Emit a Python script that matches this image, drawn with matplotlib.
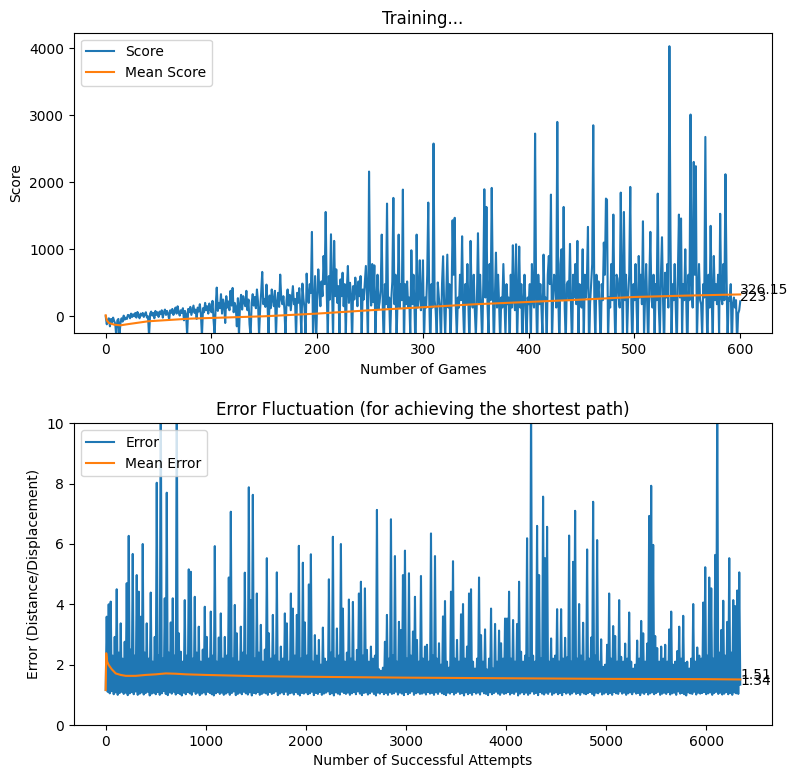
import numpy as np
import matplotlib
matplotlib.use("Agg")
import matplotlib.pyplot as plt
from matplotlib.ticker import MultipleLocator

# score per game
scores = [
    0, -120, -60, -30, -150, -40, -90, -20, -70, -110,
    -300, -60, -40, -280, -100, -30, -80, 10, -50, -20,
    -40, 20, 15, -30, 40, -10, 30, 0, 50, -20,
    64, 20, -30, 40, 10, 50, -10, 30, 60, -20,
    0, -300, 40, 70, 10, 50, -30, 80, 20, 60,
    -10, 70, 30, 90, -20, 60, 100, 20, 80, 40,
    -50, 90, 50, 110, 20, 70, 130, 40, 149, 60,
    10, 90, 50, 120, -60, 80, 30, -280, 110, 60,
    140, 20, 90, 160, 50, 100, -40, 130, 70, 180,
    30, -300, 120, 60, 200, 90, 150, 40, 190, 100,
    60, 230, -60, -280, 150, 428, 80, 200, 120, 330,
    40, 250, 180, -100, 300, 130, 220, 90, 380, 160,
    423, 60, 200, 140, -150, 270, -300, 180, 320, 100,
    300, 210, 150, 380, 90, 250, -120, -300, 200, 330,
    160, 288, 120, 400, 220, -290, 100, 350, 662, 180,
    260, 140, 473, 200, -300, 310, 120, 400, 240, 150,
    380, -310, 210, 350, 140, 622, 260, 180, 300, 100,
    -300, 240, 400, 160, 320, 90, 280, 450, 180, 260,
    -320, 350, 200, 420, 150, -280, 488, 260, 120, -350,
    637, 300, 200, 480, 350, 1259, -300, 150, 600, -400,
    250, 700, 400, 150, 520, 300, 900, 480, 1557, 350,
    -300, 600, 250, 1224, 450, -350, 1125, 300, 700, 200,
    450, -250, 550, 300, 650, 150, 480, -300, 400, 751,
    200, 500, 320, -400, 450, 250, 577, 380, 150, 520,
    300, 600, -350, 400, 250, 500, 751, 300, -450, 2160,
    480, 160, 780, 210, 760, -300, 240, 620, 110, 210,
    400, 1219, 130, -500, 480, 180, 1682, 130, 280, -300,
    240, 520, 1767, 180, 620, -400, 280, 1219, 130, 480,
    240, 1891, -500, 480, 180, 520, 130, 280, -300, 985,
    180, 620, 110, -600, 1219, 130, 280, 836, 90, 210,
    836, -400, 280, 130, 620, 1697, 180, -500, 480, 130,
    2578, 240, 90, -300, 505, 280, 130, -400, 480, 896,
    180, -300, 280, 920, 130, 480, -500, 240, 1433, 620,
    1470, 180, -300, 280, 130, 620, 240, 1194, 110, -400,
    480, 180, 780, 130, -500, 1125, 280, 130, 620, 90,
    -300, 240, 1240, 180, 620, 130, -400, 480, 1896, 280,
    1632, 180, -300, 780, 240, 1916, 480, -500, 280, 950,
    130, 620, 180, -400, 280, 130, 780, 240, -300, 480,
    180, 280, -500, 620, 130, 1060, 240, 90, 1075, -400,
    280, 1040, 130, 480, -600, 240, 620, 110, -300, 280,
    180, 480, -400, 780, 240, 130, 2727, 280, -500, 620,
    180, 480, 130, -300, 920, 240, 280, -400, 620, 900,
    480, 1816, -400, 240, 620, 520, 130, 2901, 280, -500,
    780, 1000, 240, 1632, 130, -400, 480, 520, 240, 1080,
    130, -500, 620, 280, 780, 180, 1125, -300, 480, 240,
    130, 1000, -400, 620, 280, 560, 1334, -600, 180, 480,
    780, 2851, 240, -400, 620, 280, 520, 130, -500, 480,
    240, 1100, 620, 1757, 1740, -400, 280, 130, 780, 240,
    1518, 180, -500, 620, 560, 280, 130, 1846, 480, -400,
    1557, 240, 620, -300, 280, 620, 1931, 180, -500, 480,
    240, 780, 130, -400, 900, 280, 620, 180, 1418, -300,
    280, 780, 180, -500, 520, 1260, 280, 130, 620, -400,
    480, 240, 1831, 130, -300, 620, 1180, 240, -500, 650,
    280, 780, 130, 4031, 1300, -400, 480, 240, 780, 130,
    -500, 620, 1518, 280, 1460, -300, 480, 240, 1000, 180,
    -600, 620, 240, 3011, 480, 130, 2304, 620, 2240, -400,
    280, 780, 240, 180, -300, 480, 280, 2677, 240, -500,
    620, 130, 1350, 280, -400, 900, 240, 480, 180, 620,
    -300, 1530, 280, 180, 780, 240, 2120, 650, -400, 280,
    230, 480, -500, 180, 280, 130, 240, -400, 40, 90,
    223,
]

# running mean score, read at a few games
mean_score_x = [0, 1, 3, 8, 14, 20, 40, 80, 120, 150, 200, 250, 300, 350, 400, 450, 500, 550, 600]
mean_score = [15, -60, -100, -125, -135, -120, -75, -35, -15, 0, 40, 90, 135, 180, 214, 249, 288, 309, 326.15]

# error, sampled every 10 attempts: lows (x = 0, 20, ...) and highs (x = 10, 30, ...)
err_lows = [
    1.16, 1.1, 1.05, 1.12, 1.02, 1.08, 1.0, 1.06, 1.1, 1.03, 1.07, 0.99, 1.05, 1.09, 1.02, 1.11, 1.0, 1.04, 1.08, 1.01,
    1.06, 1.1, 0.98, 1.04, 1.07, 1.02, 1.09, 1.0, 1.05, 1.12, 1.03, 0.99, 1.08, 1.04, 1.1, 1.01, 1.06, 1.03, 0.98, 1.07,
    1.02, 1.09, 1.05, 1.0, 1.11, 1.03, 1.07, 0.99, 1.04, 1.08, 1.01, 1.1, 1.06, 1.02, 0.98, 1.05, 1.09, 1.03, 1.07, 1.0,
    1.04, 1.08, 1.0, 1.06, 1.11, 0.99, 1.03, 1.07, 1.02, 1.1, 1.05, 1.01, 1.08, 0.98, 1.06, 1.04, 1.09, 1.0, 1.03, 1.07,
    1.05, 1.0, 1.09, 1.03, 1.06, 1.11, 0.99, 1.04, 1.08, 1.02, 1.1, 1.0, 1.05, 1.07, 1.01, 1.09, 1.03, 0.98, 1.06, 1.04,
    1.08, 1.02, 1.05, 1.1, 0.99, 1.06, 1.03, 1.09, 1.0, 1.04, 1.07, 1.11, 1.02, 1.05, 0.98, 1.08, 1.04, 1.01, 1.1, 1.06,
    1.03, 1.07, 1.0, 1.05, 1.09, 1.02, 1.11, 1.04, 0.99, 1.06, 1.08, 1.01, 1.05, 1.1, 1.03, 0.98, 1.07, 1.04, 1.09, 1.02,
    1.06, 1.0, 1.08, 1.03, 1.05, 1.1, 1.01, 1.07, 1.04, 0.99, 1.09, 1.02, 1.06, 1.11, 1.0, 1.05, 1.08, 1.03, 1.04, 1.07,
    1.01, 1.09, 1.04, 1.06, 1.0, 1.08, 1.03, 1.1, 1.05, 1.02, 0.99, 1.07, 1.04, 1.09, 1.01, 1.06, 1.1, 1.03, 1.05, 0.98,
    1.08, 1.02, 1.06, 1.0, 1.09, 1.04, 1.07, 1.01, 1.11, 1.05, 1.03, 0.99, 1.08, 1.02, 1.06, 1.1, 1.04, 1.0, 1.07, 1.03,
    1.05, 1.09, 1.01, 1.06, 1.03, 1.1, 0.98, 1.04, 1.08, 1.02, 1.07, 1.0, 1.05, 1.11, 1.03, 1.06, 0.99, 1.09, 1.04, 1.01,
    1.07, 1.03, 1.1, 1.0, 1.05, 1.08, 1.02, 1.06, 0.99, 1.09, 1.04, 1.07, 1.01, 1.05, 1.1, 1.03, 1.06, 1.0, 1.08, 1.04,
    1.02, 1.06, 1.09, 1.03, 0.98, 1.07, 1.05, 1.1, 1.01, 1.04, 1.08, 1.02, 1.06, 1.0, 1.09, 1.05, 1.03, 1.11, 1.04, 1.07,
    1.0, 1.05, 1.08, 1.02, 1.1, 1.04, 1.06, 0.99, 1.07, 1.03, 1.09, 1.01, 1.05, 1.08, 1.02, 1.06, 1.1, 1.0, 1.04, 1.07,
    1.03, 1.09, 1.01, 1.05, 1.07, 1.0, 1.11, 1.04, 1.06, 1.02, 0.98, 1.08, 1.05, 1.03, 1.1, 1.01, 1.07, 1.04, 1.06, 1.09,
    1.02, 1.05, 1.08, 1.0, 1.06, 1.1, 1.03, 1.07, 1.01, 1.04, 1.09, 1.02, 1.06, 1.0, 1.08, 1.05, 1.03, 1.34,
]
err_highs = [
    3.59, 4.0, 4.09, 2.3, 2.92, 4.5, 2.4, 3.37, 2.2, 2.76,
    4.7, 6.27, 2.5, 5.67, 2.3, 4.97, 4.42, 3.59, 6.0, 2.4,
    3.37, 2.2, 4.39, 2.1, 2.92, 8.03, 2.3, 11.5, 2.2, 4.2,
    7.7, 2.4, 3.4, 4.2, 2.3, 11.0, 3.04, 2.43, 2.1, 4.14,
    2.3, 5.16, 5.08, 2.2, 4.25, 2.4, 3.26, 2.1, 2.5, 3.92,
    2.92, 2.2, 3.76, 2.3, 5.93, 2.1, 2.9, 3.7, 2.2, 2.92,
    2.3, 4.89, 7.07, 2.2, 3.98, 3.04, 2.1, 3.26, 2.4, 5.05,
    2.3, 7.88, 4.14, 7.63, 2.2, 4.36, 2.4, 3.32, 2.1, 2.5,
    5.53, 3.04, 2.2, 3.65, 2.3, 5.06, 2.1, 2.6, 2.2, 3.7,
    3.37, 2.1, 4.36, 3.86, 2.3, 3.65, 5.94, 2.2, 5.38, 3.4,
    2.3, 4.66, 5.66, 2.1, 2.98, 2.3, 2.82, 2.0, 3.23, 2.2,
    2.1, 4.83, 2.4, 6.24, 2.2, 3.2, 2.3, 6.0, 3.86, 2.1,
    2.4, 4.16, 2.2, 4.08, 2.1, 2.49, 4.36, 4.75, 2.3, 4.53,
    2.49, 2.1, 2.6, 2.2, 2.3, 7.13, 1.85, 1.8, 1.9, 2.76,
    3.65, 2.2, 6.82, 2.3, 5.6, 2.1, 3.42, 3.15, 4.97, 5.78,
    2.2, 5.03, 2.3, 3.1, 4.25, 2.82, 2.1, 4.94, 2.2, 2.6,
    2.66, 2.1, 6.35, 2.3, 5.6, 2.2, 2.71, 2.0, 3.6, 4.11,
    2.1, 1.9, 4.42, 5.43, 2.2, 2.82, 2.1, 3.67, 4.01, 2.2,
    2.6, 4.36, 4.5, 2.1, 1.87, 2.2, 4.89, 2.98, 2.1, 3.17,
    1.84, 2.2, 3.86, 1.87, 3.35, 2.1, 3.13, 2.71, 2.2, 3.53,
    3.53, 4.42, 2.2, 3.48, 2.1, 3.35, 4.75, 2.43, 2.1, 2.3,
    6.19, 2.2, 11.0, 2.3, 2.1, 6.6, 4.97, 2.2, 7.57, 5.53,
    6.57, 2.1, 2.87, 2.2, 2.3, 3.84, 2.1, 3.84, 2.2, 2.89,
    2.24, 6.28, 2.1, 5.41, 7.1, 2.2, 4.01, 2.3, 3.39, 2.1,
    5.82, 2.2, 2.9, 7.4, 2.3, 6.13, 2.1, 2.84, 1.93, 2.0,
    2.66, 4.36, 2.2, 3.28, 2.95, 2.1, 4.14, 2.26, 2.1, 2.7,
    2.2, 3.73, 2.1, 1.87, 2.0, 2.8, 2.2, 3.45, 3.04, 2.1,
    2.7, 6.93, 7.93, 5.97, 2.95, 2.55, 2.1, 2.6, 2.2, 2.66,
    2.1, 3.17, 3.76, 2.0, 2.1, 2.45, 3.26, 2.2, 3.62, 2.06,
    2.1, 1.87, 2.2, 4.01, 2.1, 2.57, 2.3, 2.2, 4.06, 5.23,
    2.3, 4.89, 4.53, 2.2, 5.64, 11.0, 2.4, 3.15, 4.12, 2.3,
    3.42, 5.53, 2.4, 4.14, 3.94, 4.46, 5.06,
]

# running mean error, read at a few attempts
mean_err_x = [0, 5, 15, 30, 60, 100, 150, 200, 300, 400, 500, 600, 700, 800, 1000, 1500, 2000, 3000, 4000, 5000, 6000, 6340]
mean_err = [1.16, 2.38, 2.1, 1.99, 1.85, 1.71, 1.66, 1.63, 1.63, 1.66, 1.68, 1.71, 1.70, 1.68, 1.66, 1.62, 1.60, 1.57, 1.55, 1.53, 1.52, 1.51]

errors = np.empty(len(err_lows) + len(err_highs))
errors[0::2] = err_lows
errors[1::2] = err_highs
err_x = np.arange(len(errors)) * 10

fig = plt.figure(figsize=(7.98, 7.78), dpi=100)
ax1 = fig.add_axes([0.0927, 0.5716, 0.8747, 0.3864])
ax2 = fig.add_axes([0.0927, 0.0681, 0.8747, 0.3878])

# top: score per game
game_x = np.arange(len(scores))
ax1.plot(game_x, scores, label='Score')
ax1.plot(mean_score_x, mean_score, label='Mean Score')
ax1.set_ylim(-254, 4233)
ax1.yaxis.set_major_locator(MultipleLocator(1000))
ax1.set_title('Training...')
ax1.set_xlabel('Number of Games')
ax1.set_ylabel('Score')
ax1.legend(loc='upper left')
ax1.text(game_x[-1], scores[-1], str(scores[-1]))
ax1.text(mean_score_x[-1], mean_score[-1], str(mean_score[-1]))

# bottom: error per successful attempt
ax2.plot(err_x, errors, label='Error')
ax2.plot(mean_err_x, mean_err, label='Mean Error')
ax2.set_ylim(0, 10)
ax2.set_title('Error Fluctuation (for achieving the shortest path)')
ax2.set_xlabel('Number of Successful Attempts')
ax2.set_ylabel('Error (Distance/Displacement)')
ax2.legend(loc='upper left')
ax2.text(err_x[-1], errors[-1], str(round(errors[-1], 2)))
ax2.text(mean_err_x[-1], mean_err[-1], str(mean_err[-1]))

fig.savefig('out.png', dpi=100)
